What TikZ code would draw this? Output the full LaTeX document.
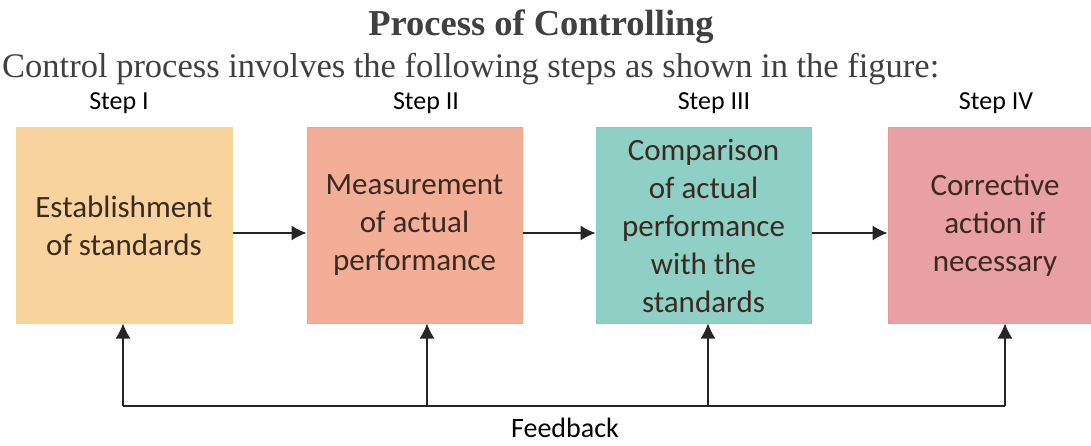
\documentclass[tikz,border=0pt]{standalone}
\usepackage{fontspec}
\setmainfont{Liberation Serif}
\newfontfamily\boxfont{Carlito}
\usetikzlibrary{arrows.meta}
\definecolor{fillA}{HTML}{F9D39E}
\definecolor{drawA}{HTML}{F3D98E}
\definecolor{fillB}{HTML}{F2AE96}
\definecolor{drawB}{HTML}{EFA68C}
\definecolor{fillC}{HTML}{8ED0C6}
\definecolor{drawC}{HTML}{86CBC0}
\definecolor{fillD}{HTML}{E8A0A4}
\definecolor{drawD}{HTML}{E39AA0}
\definecolor{boxtext}{HTML}{3A2A22}
\definecolor{headtext}{HTML}{404040}
\tikzset{
  stepbox/.style={rectangle, minimum height=195pt, inner sep=0pt, align=center,
    font=\boxfont\fontsize{31}{38}\selectfont, text=boxtext, line width=1pt},
  steplabel/.style={font=\boxfont\fontsize{26}{30}\selectfont, text=black, anchor=base},
  flowarrow/.style={-{Latex[length=15pt,width=15pt]}, line width=1.3pt, draw=black!85},
  fbline/.style={line width=1.3pt, draw=black!85}
}
\begin{document}
\begin{tikzpicture}[x=1pt,y=-1pt]
\useasboundingbox (0,0) rectangle (1091,446);
\fill[white] (0,0) rectangle (1091,446);
\node[anchor=base, font=\fontsize{36.5}{40}\selectfont\bfseries, text=headtext, inner sep=0pt] (title) at (541,36) {Process of Controlling};
\node[anchor=base west, font=\fontsize{34.5}{38}\selectfont, text=headtext, inner sep=0pt] (sub) at (2,78) {Control process involves the following steps as shown in the figure:};
\node[steplabel] (s1) at (119,110) {Step I};
\node[steplabel] (s2) at (426,110) {Step II};
\node[steplabel] (s3) at (714,110) {Step III};
\node[steplabel] (s4) at (996,110) {Step IV};
\node[stepbox, fill=fillA, draw=drawA, minimum width=216pt] (b1) at (124,225.5) {Establishment\\of standards};
\node[stepbox, fill=fillB, draw=drawB, minimum width=215pt] (b2) at (414.5,225.5) {Measurement\\of actual\\performance};
\node[stepbox, fill=fillC, draw=drawC, minimum width=215pt] (b3) at (703.5,225.5) {Comparison\\of actual\\performance\\with the\\standards};
\node[stepbox, fill=fillD, draw=drawD, minimum width=214pt] (b4) at (995,225.5) {Corrective\\action if\\necessary};
\draw[flowarrow] ([yshift=-7.5pt]b1.east) -- ([yshift=-7.5pt]b2.west);
\draw[flowarrow] ([yshift=-7.5pt]b2.east) -- ([yshift=-7.5pt]b3.west);
\draw[flowarrow] ([yshift=-7.5pt]b3.east) -- ([yshift=-7.5pt]b4.west);
\coordinate (f1) at (123,406);
\coordinate (f2) at (427,406);
\coordinate (f3) at (708,406);
\coordinate (f4) at (1005,406);
\draw[fbline] (f1) -- (f4);
\draw[flowarrow] (f1) -- (f1 |- b1.south);
\draw[flowarrow] (f2) -- (f2 |- b2.south);
\draw[flowarrow] (f3) -- (f3 |- b3.south);
\draw[flowarrow] (f4) -- (f4 |- b4.south);
\node[font=\boxfont\fontsize{28}{30}\selectfont, anchor=base, inner sep=0pt] (fb) at (565,437) {Feedback};
\end{tikzpicture}
\end{document}
